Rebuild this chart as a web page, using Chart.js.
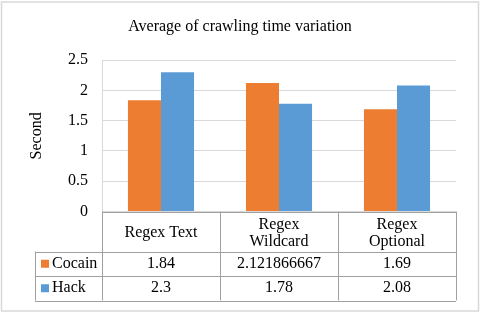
<!DOCTYPE html>
<html>
<head>
<meta charset="utf-8">
<script src="https://cdn.jsdelivr.net/npm/chart.js@4.4.1/dist/chart.umd.min.js"></script>
<style>
  html, body { margin: 0; padding: 0; background: #fff; }
  #wrap { width: 480px; height: 313px; position: relative; }
</style>
</head>
<body>
<div id="wrap"><canvas id="crawlChart"></canvas></div>
<script>
// data
const categories = [['Regex Text'], ['Regex', 'Wildcard'], ['Regex', 'Optional']];
const seriesNames = ['Cocain', 'Hack'];
const cocainValues = [1.84, 2.121866667, 1.69];
const hackValues = [2.3, 1.78, 2.08];
const yTicks = [0, 0.5, 1, 1.5, 2, 2.5];

const seriesColors = ['#ED7D31', '#5B9BD5'];
const serif = "'Liberation Serif', 'Times New Roman', serif";

// border round the whole chart
const frame = {
  id: 'frame',
  beforeDraw(chart) {
    const c = chart.ctx;
    c.save();
    c.fillStyle = '#fff';
    c.fillRect(0, 0, chart.width, chart.height);
    c.strokeStyle = '#d9d9d9';
    c.lineWidth = 1.5;
    c.strokeRect(1.5, 2, chart.width - 3, chart.height - 4);
    c.restore();
  }
};

// Excel style data table under the plot
const dataTable = {
  id: 'dataTable',
  afterDraw(chart) {
    const c = chart.ctx;
    const area = chart.chartArea;
    const xs = chart.scales.x;
    const n = categories.length;
    const step = (area.right - area.left) / n;
    const top = area.bottom;
    const headH = 40;
    const rowH = 24.5;
    const legLeft = 35;
    const bottom = top + headH + rowH * seriesNames.length;
    const px = v => Math.round(v) + 0.5;

    c.save();
    c.strokeStyle = '#a0a0a0';
    c.lineWidth = 1;
    c.beginPath();
    c.moveTo(area.left, px(top)); c.lineTo(area.right, px(top));
    for (let r = 0; r <= seriesNames.length; r++) {
      const y = px(top + headH + r * rowH);
      c.moveTo(legLeft, y); c.lineTo(area.right, y);
    }
    for (let i = 0; i <= n; i++) {
      const x = px(area.left + i * step);
      c.moveTo(x, top); c.lineTo(x, bottom);
    }
    c.moveTo(px(legLeft), top + headH); c.lineTo(px(legLeft), bottom);
    c.stroke();

    c.fillStyle = '#000';
    c.font = '16px ' + serif;
    c.textAlign = 'center';
    c.textBaseline = 'middle';
    categories.forEach((lines, i) => {
      const cx = xs.getPixelForTick(i);
      const lh = 17;
      const y0 = top + headH / 2 + 1.5 - (lines.length - 1) * lh / 2;
      lines.forEach((t, k) => c.fillText(t, cx, y0 + k * lh));
    });

    chart.data.datasets.forEach((ds, r) => {
      const cy = top + headH + r * rowH + rowH / 2;
      ds.data.forEach((v, i) => {
        c.fillText(String(v), xs.getPixelForTick(i), cy);
      });
      c.fillStyle = ds.backgroundColor;
      c.fillRect(legLeft + 6, cy - 4, 8, 8);
      c.fillStyle = '#000';
      c.textAlign = 'left';
      c.fillText(ds.label, legLeft + 17, cy);
      c.textAlign = 'center';
    });
    c.restore();
  }
};

new Chart(document.getElementById('crawlChart'), {
  type: 'bar',
  data: {
    labels: categories.map(l => l.join(' ')),
    datasets: [
      { label: seriesNames[0], data: cocainValues, backgroundColor: seriesColors[0] },
      { label: seriesNames[1], data: hackValues, backgroundColor: seriesColors[1] }
    ]
  },
  options: {
    responsive: true,
    maintainAspectRatio: false,
    animation: false,
    layout: { padding: { top: 0, left: 0, right: 0, bottom: 101.5 } },
    datasets: { bar: { barPercentage: 1, categoryPercentage: 0.56 } },
    plugins: {
      legend: { display: false },
      tooltip: { enabled: false },
      title: {
        display: true,
        text: 'Average of crawling time variation',
        color: '#000',
        font: { family: serif, size: 16, weight: 'normal' },
        padding: { top: 17, bottom: 24 }
      }
    },
    scales: {
      x: { display: false },
      y: {
        min: 0,
        max: 2.5,
        afterBuildTicks: s => { s.ticks = yTicks.map(v => ({ value: v })); },
        afterFit: s => { s.width = 102; },
        border: { display: true, color: '#d9d9d9' },
        grid: { color: '#d9d9d9', drawTicks: false },
        ticks: {
          padding: 14,
          color: '#000',
          font: { family: serif, size: 16 },
          callback: v => String(v)
        },
        title: {
          display: true,
          text: 'Second',
          color: '#000',
          font: { family: serif, size: 16 },
          padding: { top: 27 }
        }
      },
      // empty right-hand axis keeps the plot clear of the right edge
      yRight: {
        position: 'right',
        display: true,
        min: 0,
        max: 2.5,
        afterFit: s => { s.width = 24; },
        grid: { display: false, drawTicks: false },
        border: { display: false },
        ticks: { display: false }
      }
    }
  },
  plugins: [frame, dataTable]
});
</script>
</body>
</html>
